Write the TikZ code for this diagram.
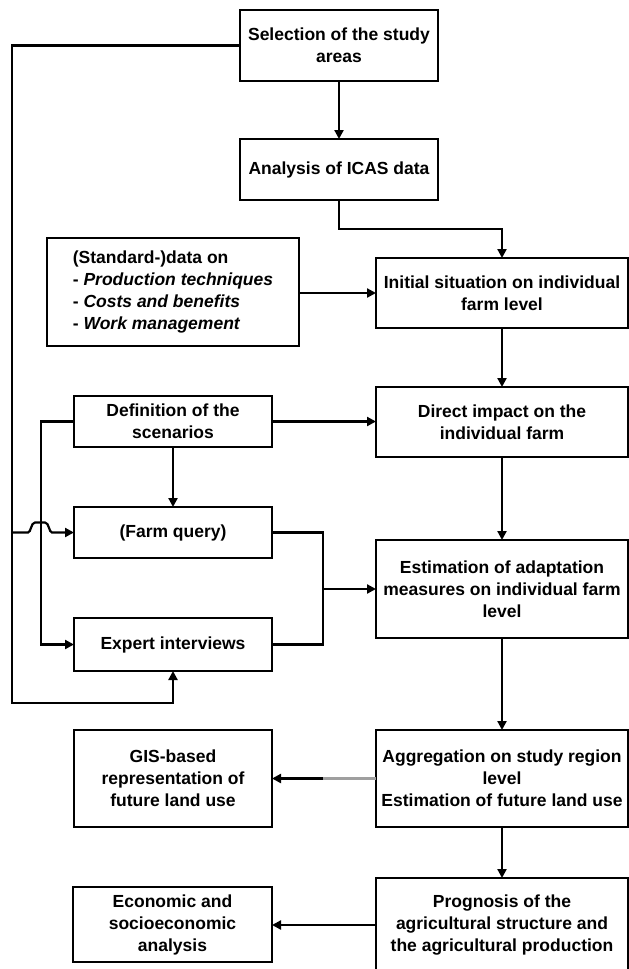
\documentclass[tikz,border=0pt]{standalone}
\usepackage{fontspec}
\setmainfont{Liberation Sans}
\usetikzlibrary{arrows.meta}
\begin{document}
\begin{tikzpicture}[x=1pt,y=-1pt,
  box/.style={draw, line width=2.7pt, align=center, inner sep=0pt, outer sep=0pt,
    font=\bfseries\fontsize{17.5}{22}\selectfont},
  conn/.style={line width=2.2pt},
  arr/.style={conn, -{Triangle[length=9pt,width=9pt]}}]
\useasboundingbox (0,0) rectangle (629,969);
% nodes
\node[box, minimum width=198pt, minimum height=71pt] (sel) at (339,45.5) {Selection of the study\\areas};
\node[box, minimum width=198pt, minimum height=61pt] (ana) at (339,169.5) {Analysis of ICAS data};
\node[box, align=left, minimum width=252pt, minimum height=108pt] (std) at (173,292) {(Standard-)data on\\- \textit{Production techniques}\\- \textit{Costs and benefits}\\- \textit{Work management}};
\node[box, minimum width=252pt, minimum height=70pt] (ini) at (502,293) {Initial situation on individual\\farm level};
\node[box, minimum width=198pt, minimum height=51pt] (def) at (173,421.5) {Definition of the\\scenarios};
\node[box, minimum width=252pt, minimum height=70pt] (dir) at (502,422) {Direct impact on the\\individual farm};
\node[box, minimum width=198pt, minimum height=51pt] (farm) at (173,532.5) {(Farm query)};
\node[box, minimum width=252pt, minimum height=98pt] (est) at (502,589) {Estimation of adaptation\\measures on individual farm\\level};
\node[box, minimum width=198pt, minimum height=53pt] (exp) at (173,644.5) {Expert interviews};
\node[box, minimum width=198pt, minimum height=97pt] (gis) at (173,778.5) {GIS-based\\representation of\\future land use};
\node[box, minimum width=252pt, minimum height=97pt] (agg) at (502,778.5) {Aggregation on study region\\level\\Estimation of future land use};
\node[box, minimum width=199pt, minimum height=75pt] (eco) at (172.5,924.5) {Economic and\\socioeconomic\\analysis};
\node[box, minimum width=252pt, minimum height=94pt] (prog) at (502,925) {Prognosis of the\\agricultural structure and\\the agricultural production};
% helper coordinates
\coordinate (c1) at (12,45.5);
\coordinate (c2) at (12,703);
\coordinate (jn) at (12,532.5);
\coordinate (dl) at (41,421.5);
\coordinate (m) at (323,589);
\coordinate (g) at (323,778.5);
% connectors
\draw[arr] (sel.south) -- (ana.north);
\draw[arr] (ana.south) -- ++(0,29) -| (ini.north);
\draw[arr] (std.east |- ini.west) -- (ini.west);
\draw[arr] (ini.south) -- (dir.north);
\draw[arr] (def.east) -- (def.east -| dir.west);
\draw[arr] (def.south) -- (farm.north);
\draw[arr] (def.west) -- (dl) |- (exp.west);
\draw[arr] (sel.west) -- (c1) -- (c2) -| (exp.south);
\draw[arr] (jn) -- (28,532.5) .. controls (31,532.5) and (31,522.5) .. (35,522.5) -- (45,522.5) .. controls (49,522.5) and (49,532.5) .. (52,532.5) -- (farm.west);
\draw[conn] (farm.east) -| (m);
\draw[conn] (exp.east) -| (m);
\draw[arr] (m) -- (est.west);
\draw[arr] (dir.south) -- (est.north);
\draw[arr] (est.south) -- (agg.north);
\draw[conn, gray!75] (agg.west) -- (g);
\draw[arr] (g) -- (gis.east);
\draw[arr] (agg.south) -- (prog.north);
\draw[arr] (prog.west) -- (prog.west -| eco.east);
\end{tikzpicture}
\end{document}
